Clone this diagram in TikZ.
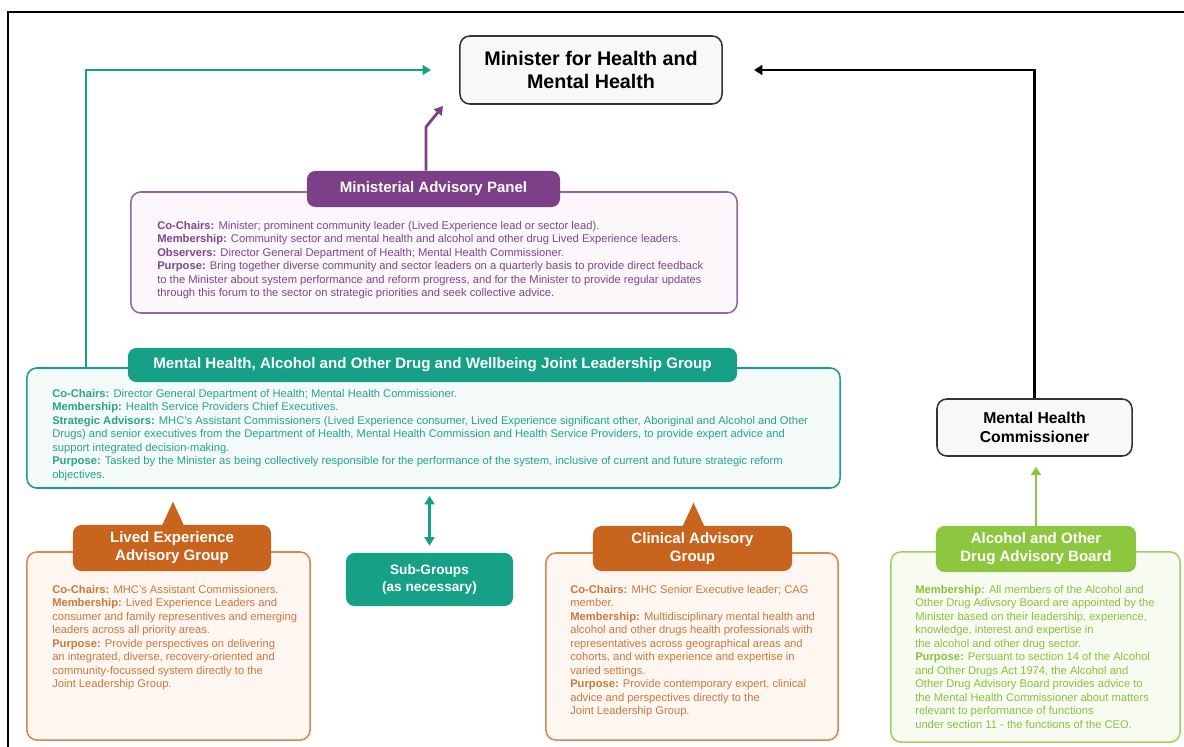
\documentclass[tikz,border=0pt]{standalone}
\usepackage{fontspec}
\setmainfont{Liberation Sans}
\usetikzlibrary{arrows.meta,calc}

\definecolor{jteal}{RGB}{22,160,133}
\definecolor{jtealfill}{RGB}{243,250,248}
\definecolor{jtealtext}{RGB}{38,166,138}
\definecolor{mpurple}{RGB}{125,63,135}
\definecolor{mpurpleline}{RGB}{150,100,165}
\definecolor{mpurplefill}{RGB}{251,247,251}
\definecolor{mpurpletext}{RGB}{128,70,140}
\definecolor{gorange}{RGB}{200,100,30}
\definecolor{gorangeline}{RGB}{215,135,80}
\definecolor{gorangefill}{RGB}{253,246,241}
\definecolor{gorangetext}{RGB}{205,120,60}
\definecolor{bgreen}{RGB}{141,198,63}
\definecolor{bgreenline}{RGB}{160,208,95}
\definecolor{bgreenfill}{RGB}{248,251,242}
\definecolor{bgreentext}{RGB}{135,195,60}
\definecolor{greybox}{RGB}{248,248,248}

\newcommand{\fld}[1]{\textbf{#1}}

\begin{document}
\begin{tikzpicture}[x=0.025cm,y=-0.025cm,
    every node/.style={inner sep=0pt},
    panelbox/.style 2 args={draw=#1, fill=#2, line width=1.1pt, rounded corners=7pt},
    headbox/.style={fill=#1, text=white, rounded corners=6pt, align=center,
        font=\bfseries\fontsize{10.7}{12.8}\selectfont},
    bodytext/.style={anchor=north west, align=left, text=#1,
        font=\fontsize{7.95}{9.6}\selectfont},
    topbox/.style={draw=black!80, fill=greybox, line width=1.1pt, rounded corners=7pt,
        align=center, font=\bfseries\fontsize{11.2}{13.5}\selectfont},
    linkarrow/.style={line width=2pt, -{Triangle[length=6pt,width=7pt]}}]
\useasboundingbox (0,0) rectangle (1184,747);

% frame
\draw[line width=1.3pt] (8,747) |- (1184,12);

% top boxes
\node[topbox, minimum width=6.55cm, minimum height=1.7cm,
    font=\bfseries\fontsize{14}{17}\selectfont] (MIN) at (591,70)
    {Minister for Health and\\Mental Health};
\node[topbox, minimum width=4.875cm, minimum height=1.425cm] (MHC) at (1034.5,427.5)
    {Mental Health\\Commissioner};

% Ministerial Advisory Panel
\node[panelbox={mpurpleline}{mpurplefill}, minimum width=15.15cm, minimum height=3.025cm] (MAP) at (434,252.5) {};
\node[headbox=mpurple, minimum width=6.325cm, minimum height=0.9cm,
    font=\bfseries\fontsize{10.7}{12}\selectfont] (MAPh) at (433.5,189) {Ministerial Advisory Panel};
\node[bodytext=mpurpletext] (MAPt) at (157,221) {%
\fld{Co-Chairs:} Minister; prominent community leader (Lived Experience lead or sector lead).\\
\fld{Membership:} Community sector and mental health and alcohol and other drug Lived Experience leaders.\\
\fld{Observers:} Director General Department of Health; Mental Health Commissioner.\\
\fld{Purpose:} Bring together diverse community and sector leaders on a quarterly basis to provide direct feedback\\
to the Minister about system performance and reform progress, and for the Minister to provide regular updates\\
through this forum to the sector on strategic priorities and seek collective advice.};

% Joint Leadership Group
\node[panelbox={jteal}{jtealfill}, minimum width=20.325cm, minimum height=3cm] (JLG) at (433.5,428) {};
\node[headbox=jteal, minimum width=15.225cm, minimum height=0.85cm,
    font=\bfseries\fontsize{10.75}{12}\selectfont] (JLGh) at (432.5,365)
    {Mental Health, Alcohol and Other Drug and Wellbeing Joint Leadership Group};
\node[bodytext=jtealtext] (JLGt) at (52,389) {%
\fld{Co-Chairs:} Director General Department of Health; Mental Health Commissioner.\\
\fld{Membership:} Health Service Providers Chief Executives.\\
\fld{Strategic Advisors:} MHC's Assistant Commissioners (Lived Experience consumer, Lived Experience significant other, Aboriginal and Alcohol and Other\\
Drugs) and senior executives from the Department of Health, Mental Health Commission and Health Service Providers, to provide expert advice and\\
support integrated decision-making.\\
\fld{Purpose:} Tasked by the Minister as being collectively responsible for the performance of the system, inclusive of current and future strategic reform\\
objectives.};

% Sub-Groups
\node[headbox=jteal, minimum width=4.175cm, minimum height=1.325cm,
    font=\bfseries\fontsize{9.7}{12}\selectfont] (SUB) at (429.5,579.5) {Sub-Groups\\(as necessary)};

% Lived Experience Advisory Group
\node[panelbox={gorangeline}{gorangefill}, minimum width=7.075cm, minimum height=4.7cm] (LEAG) at (168.5,646) {};
\node[headbox=gorange, minimum width=4.95cm, minimum height=1.15cm] (LEAGh) at (172,548)
    {Lived Experience\\Advisory Group};
\node[bodytext=gorangetext] (LEAGt) at (52,585) {%
\fld{Co-Chairs:} MHC's Assistant Commissioners.\\
\fld{Membership:} Lived Experience Leaders and\\
consumer and family representives and emerging\\
leaders across all priority areas.\\
\fld{Purpose:} Provide perspectives on delivering\\
an integrated, diverse, recovery-oriented and\\
community-focussed system directly to the\\
Joint Leadership Group.};

% Clinical Advisory Group
\node[panelbox={gorangeline}{gorangefill}, minimum width=7.3cm, minimum height=4.675cm] (CAG) at (692,646.5) {};
\node[headbox=gorange, minimum width=4.975cm, minimum height=1.125cm] (CAGh) at (692.5,548.5)
    {Clinical Advisory\\Group};
\node[bodytext=gorangetext] (CAGt) at (570,585) {%
\fld{Co-Chairs:} MHC Senior Executive leader; CAG\\
member.\\
\fld{Membership:} Multidisciplinary mental health and\\
alcohol and other drugs health professionals with\\
representatives across geographical areas and\\
cohorts, and with experience and expertise in\\
varied settings.\\
\fld{Purpose:} Provide contemporary expert, clinical\\
advice and perspectives directly to the\\
Joint Leadership Group.};

% Alcohol and Other Drug Advisory Board
\node[panelbox={bgreenline}{bgreenfill}, minimum width=7.225cm, minimum height=4.75cm] (AOD) at (1035.5,647) {};
\node[headbox=bgreen, minimum width=5cm, minimum height=1.15cm] (AODh) at (1036,549)
    {Alcohol and Other\\Drug Advisory Board};
\node[bodytext=bgreentext] (AODt) at (915,585) {%
\fld{Membership:} All members of the Alcohol and\\
Other Drug Adivsory Board are appointed by the\\
Minister based on their leadership, experience,\\
knowledge, interest and expertise in\\
the alcohol and other drug sector.\\
\fld{Purpose:} Persuant to section 14 of the Alcohol\\
and Other Drugs Act 1974, the Alcohol and\\
Other Drug Advisory Board provides advice to\\
the Mental Health Commissioner about matters\\
relevant to performance of functions\\
under section 11 - the functions of the CEO.};

% pointers on the advisory groups
\foreach \h in {LEAGh,CAGh}
    \fill[gorange] ($(\h.north)+(-11,3)$) -- ++(12,-26) -- ++(12,26) -- cycle;

% connectors
\coordinate (tealx) at (86,0);
\coordinate (minW) at (431,70);
\coordinate (minE) at (754,70);
\coordinate (pbend) at (426,127);
\coordinate (ptip) at (443,106);

\draw[linkarrow, jteal] (JLG.north west -| tealx) |- (minW);
\draw[linkarrow, black, line width=1.8pt] (MHC.north) |- (minE);
\draw[linkarrow, mpurple] (MAPh.north -| pbend) -- (pbend) -- (ptip);
\draw[linkarrow, bgreen, shorten >=7pt] (AODh.north) -- (AODh.north |- MHC.south);
\draw[jteal, line width=2pt, {Triangle[length=6pt,width=7pt]}-{Triangle[length=6pt,width=7pt]},
    shorten <=5pt, shorten >=5pt] (SUB.north) -- (SUB.north |- JLG.south);
\end{tikzpicture}
\end{document}
